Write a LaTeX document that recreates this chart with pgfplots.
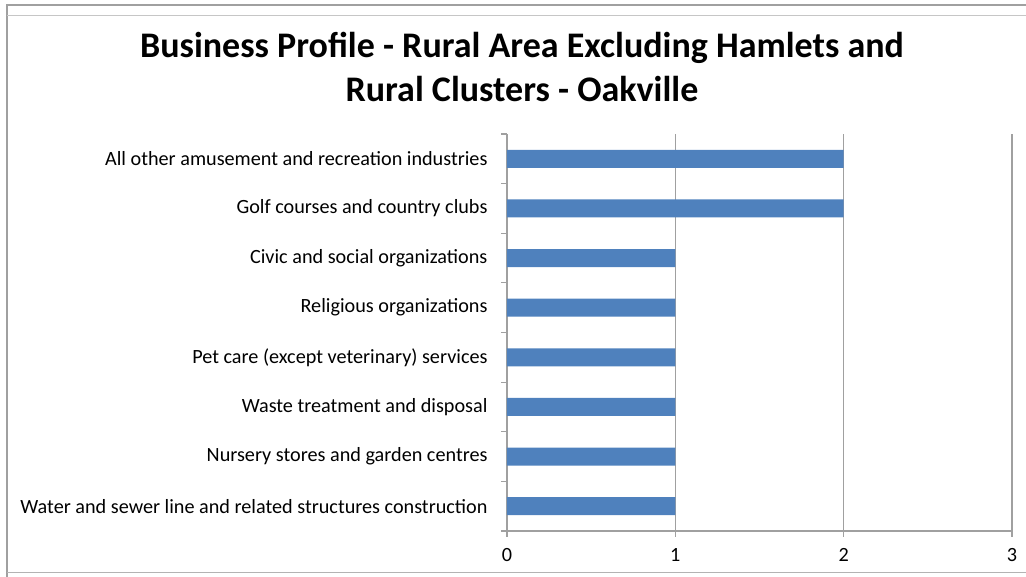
\documentclass[border=0pt]{standalone}
\usepackage{pgfplots}
\pgfplotsset{compat=1.18}
\usepackage{fontspec}
\setmainfont{Carlito}
\definecolor{barblue}{HTML}{4F81BD}
\definecolor{gridgray}{HTML}{A0A0A0}
\begin{document}
\begin{tikzpicture}[x=1pt,y=1pt]
\useasboundingbox (0pt,0pt) rectangle (1026pt,577pt);
\draw[gridgray, line width=1.2pt] (7pt,0pt) -- (7pt,572pt) -- (1026pt,572pt);
\draw[gridgray!60, line width=1pt] (7pt,561pt) -- (1026pt,561pt);
\draw[gridgray!80, line width=1pt] (7pt,4pt) -- (1026pt,4pt);
\node[align=center, font=\fontsize{36}{44}\selectfont\bfseries] at (522pt,510pt)
 {Business Profile - Rural Area Excluding Hamlets and\\Rural Clusters - Oakville};
\begin{axis}[
  at={(507pt,46pt)}, anchor=origin,
  scale only axis, width=505pt, height=397pt,
  xbar, bar width=18pt,
  xmin=0, xmax=3, ymin=0, ymax=8,
  xtick={0,1,2,3},
  ytick={0.5,1.5,...,7.5},
  yticklabels={Water and sewer line and related structures construction,
    Nursery stores and garden centres,
    Waste treatment and disposal,
    Pet care (except veterinary) services,
    Religious organizations,
    Civic and social organizations,
    Golf courses and country clubs,
    All other amusement and recreation industries},
  minor ytick={0,1,...,8},
  axis x line*=bottom, axis y line*=left,
  axis line style={gridgray, line width=1.2pt, -},
  tick style={gridgray, line width=1.2pt},
  major tick length=6pt, minor tick length=6pt,
  ytick style={draw=none},
  minor y tick style={draw=gridgray},
  tick align=outside,
  xmajorgrids, grid style={gridgray, line width=1.2pt},
  ticklabel style={font=\fontsize{20.2}{24}\selectfont},
  /pgf/number format/assume math mode=true,
  xticklabel style={yshift=-8pt},
  yticklabel style={xshift=-10pt},
  clip=false,
]
\addplot[fill=barblue, draw=none] coordinates {
 (1,0.5) (1,1.5) (1,2.5) (1,3.5) (1,4.5) (1,5.5) (2,6.5) (2,7.5)};
\end{axis}
\end{tikzpicture}
\end{document}
